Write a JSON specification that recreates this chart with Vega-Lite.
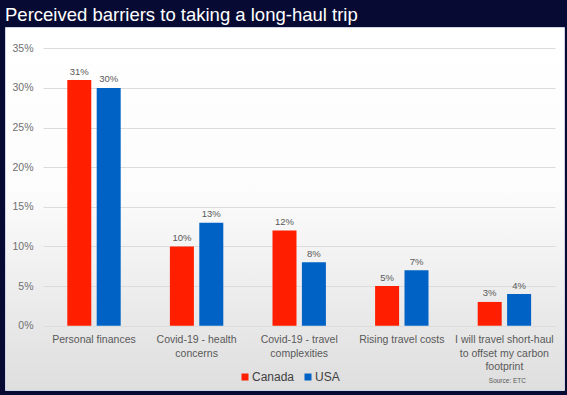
{
  "$schema": "https://vega.github.io/schema/vega-lite/v6.json",
  "width": 559,
  "height": 363,
  "autosize": {"type": "none"},
  "padding": {"left": 5, "top": 27, "right": 3, "bottom": 5},
  "background": "#070b33",
  "title": {
    "text": "Perceived barriers to taking a long-haul trip",
    "anchor": "start",
    "frame": "group",
    "color": "#ffffff",
    "font": "Liberation Sans",
    "fontSize": 18.5,
    "fontWeight": "normal",
    "offset": 3
  },
  "config": {
    "view": {
      "fill": {
        "gradient": "linear",
        "x1": 0, "y1": 0, "x2": 0, "y2": 1,
        "stops": [
          {"offset": 0, "color": "#ffffff"},
          {"offset": 0.45, "color": "#fcfcfc"},
          {"offset": 1, "color": "#dedede"}
        ]
      },
      "stroke": "#cdd5e5",
      "strokeWidth": 1
    }
  },
  "data": {
    "values": [
      {"barrier": "Personal finances", "country": "Canada", "share": 0.31},
      {"barrier": "Personal finances", "country": "USA", "share": 0.30},
      {"barrier": "Covid-19 - health\nconcerns", "country": "Canada", "share": 0.10},
      {"barrier": "Covid-19 - health\nconcerns", "country": "USA", "share": 0.13},
      {"barrier": "Covid-19 - travel\ncomplexities", "country": "Canada", "share": 0.12},
      {"barrier": "Covid-19 - travel\ncomplexities", "country": "USA", "share": 0.08},
      {"barrier": "Rising travel costs", "country": "Canada", "share": 0.05},
      {"barrier": "Rising travel costs", "country": "USA", "share": 0.07},
      {"barrier": "I will travel short-haul\nto offset my carbon\nfootprint", "country": "Canada", "share": 0.03},
      {"barrier": "I will travel short-haul\nto offset my carbon\nfootprint", "country": "USA", "share": 0.04}
    ]
  },
  "encoding": {
    "x": {
      "field": "barrier",
      "type": "nominal",
      "title": null,
      "scale": {
        "domain": [
          "Personal finances",
          "Covid-19 - health\nconcerns",
          "Covid-19 - travel\ncomplexities",
          "Rising travel costs",
          "I will travel short-haul\nto offset my carbon\nfootprint"
        ],
        "paddingInner": 0.4795,
        "paddingOuter": 0.4639,
        "align": 0.6544
      },
      "axis": {
        "orient": "bottom",
        "offset": -64.3,
        "domain": false,
        "ticks": false,
        "grid": false,
        "labelAngle": 0,
        "labelPadding": 9,
        "labelFont": "Liberation Sans",
        "labelFontSize": 10.5,
        "labelColor": "#595959",
        "labelLineHeight": 13.4,
        "labelOverlap": false,
        "labelBound": false,
        "labelLimit": 0,
        "labelExpr": "split(datum.label, '\\n')"
      }
    }
  },
  "layer": [
    {
      "mark": {"type": "bar"},
      "encoding": {
        "xOffset": {
          "field": "country",
          "type": "nominal",
          "sort": ["Canada", "USA"],
          "scale": {"paddingInner": 0.184, "paddingOuter": 0}
        },
        "y": {
          "field": "share",
          "type": "quantitative",
          "title": null,
          "scale": {"domain": [-0.0811, 0.3769], "nice": false, "zero": false},
          "axis": {
            "orient": "left",
            "offset": -38,
            "values": [0, 0.05, 0.1, 0.15, 0.2, 0.25, 0.3, 0.35],
            "format": ".0%",
            "domain": false,
            "ticks": false,
            "labelPadding": 10,
            "labelFont": "Liberation Sans",
            "labelFontSize": 10.5,
            "labelColor": "#707070",
            "grid": true,
            "gridColor": "#dcdcdc",
            "gridWidth": 1,
            "gridDash": [0, 38, 512, 100]
          }
        },
        "color": {
          "field": "country",
          "type": "nominal",
          "scale": {"domain": ["Canada", "USA"], "range": ["#ff1e00", "#0062c4"]},
          "legend": {
            "title": null,
            "orient": "none",
            "legendX": 234,
            "legendY": 344,
            "direction": "horizontal",
            "symbolType": "square",
            "symbolSize": 49,
            "symbolStrokeWidth": 0,
            "labelFont": "Liberation Sans",
            "labelFontSize": 12,
            "labelColor": "#404040",
            "labelOffset": 1,
            "columnPadding": 7
          }
        }
      }
    },
    {
      "mark": {
        "type": "text",
        "baseline": "alphabetic",
        "dy": -5.5,
        "font": "Liberation Sans",
        "fontSize": 9.5,
        "color": "#595959"
      },
      "encoding": {
        "xOffset": {"field": "country", "type": "nominal", "sort": ["Canada", "USA"]},
        "y": {"field": "share", "type": "quantitative", "title": null},
        "text": {"field": "share", "type": "quantitative", "format": ".0%"}
      }
    },
    {
      "data": {
        "values": [
          {"barrier": "I will travel short-haul\nto offset my carbon\nfootprint", "note": "Source: ETC"}
        ]
      },
      "mark": {
        "type": "text",
        "baseline": "alphabetic",
        "dx": 3,
        "font": "Liberation Sans",
        "fontSize": 6.5,
        "color": "#595959"
      },
      "encoding": {
        "y": {"datum": -0.0727, "type": "quantitative"},
        "text": {"field": "note", "type": "nominal"}
      }
    }
  ]
}
